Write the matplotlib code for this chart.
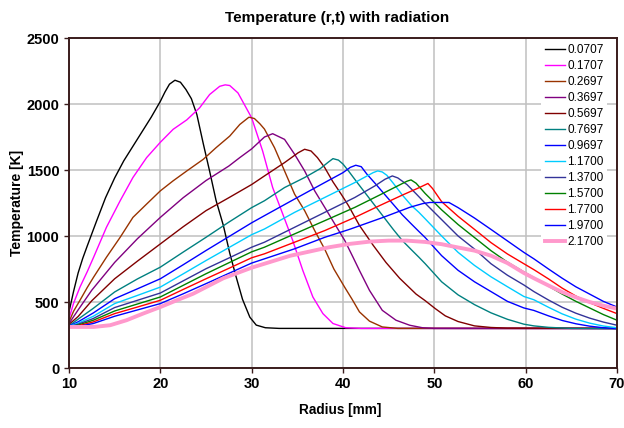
import matplotlib
matplotlib.use("Agg")
import matplotlib.pyplot as plt

plt.rcParams['font.family'] = ['Liberation Sans', 'DejaVu Sans']

labels = ["0.0707", "0.1707", "0.2697", "0.3697", "0.5697", "0.7697", "0.9697",
          "1.1700", "1.3700", "1.5700", "1.7700", "1.9700", "2.1700"]
colors = ["#000000", "#FF00FF", "#993300", "#800080", "#800000", "#008080", "#0000FF",
          "#00CCFF", "#333399", "#008000", "#FF0000", "#0000FF", "#FF99CC"]

r0 = [10, 10.5, 11, 11.5, 12, 13, 14, 15, 16, 17, 18, 19, 20, 20.5, 21, 21.6, 22.2, 22.8, 23.4, 24.0,
      24.7, 25.4, 26.1, 26.9, 27.6, 28.3, 29.0, 29.8, 30.5, 31.5, 33, 70]
T0 = [425, 580, 720, 830, 925, 1110, 1290, 1440, 1570, 1680, 1790, 1900, 2020, 2090, 2150, 2180, 2165,
      2110, 2040, 1920, 1700, 1490, 1270, 1080, 870, 690, 520, 385, 325, 305, 300, 300]

r1 = [10, 10.5, 11.2, 12, 12.7, 14.1, 15.6, 17, 18.5, 20, 21.4, 22.9, 24.3, 25.4, 26.5, 27.1, 27.6,
      28.5, 29.2, 30, 31.2, 32.3, 33.4, 34.5, 35.6, 36.7, 37.8, 38.9, 40.3, 42, 70]
T1 = [375, 490, 613, 730, 840, 1066, 1267, 1443, 1594, 1710, 1808, 1880, 1971, 2072, 2134, 2145, 2140,
      2084, 1996, 1895, 1644, 1367, 1167, 965, 739, 538, 412, 337, 305, 300, 300]

r2 = [10, 10.5, 11.2, 12, 12.7, 14.1, 15.6, 17, 18.5, 20, 21.4, 22.9, 24.7, 26.1, 27.6, 28.7, 29.7,
      30.3, 30.9, 31.4, 32.5, 33.6, 34.7, 35.8, 36.9, 38.0, 39.0, 40.2, 41.0, 41.8, 42.9, 44.3, 46, 70]
T2 = [349, 430, 513, 610, 689, 839, 990, 1141, 1242, 1342, 1418, 1493, 1581, 1669, 1757, 1845, 1900,
      1890, 1850, 1810, 1669, 1493, 1317, 1192, 1041, 900, 750, 610, 520, 425, 355, 311, 300, 300]

r3 = [10, 11, 12.5, 15, 17.5, 20, 22.5, 25, 27.5, 28.7, 30, 31.4, 32.3, 33.6, 34.7, 35.8, 36.9, 38.0,
      39.1, 40.2, 41.1, 41.8, 42.9, 44.3, 45.8, 47.3, 48.7, 50, 70]
T3 = [337, 440, 590, 800, 980, 1141, 1290, 1420, 1530, 1594, 1660, 1750, 1775, 1732, 1619, 1493, 1342,
      1217, 1091, 965, 839, 739, 588, 437, 362, 324, 305, 300, 298]

r4 = [10, 11, 12.5, 15, 17.5, 20, 22.5, 25, 27.5, 30, 31.4, 33.6, 35.1, 35.8, 36.5, 37.2, 38.0, 38.9,
      39.8, 40.6, 41.8, 43.3, 44.7, 46.2, 48.0, 49.0, 50.1, 51.2, 52.6, 54.4, 56.2, 58, 70]
T4 = [330, 390, 510, 676, 810, 940, 1070, 1192, 1290, 1390, 1455, 1556, 1631, 1657, 1644, 1594, 1518,
      1410, 1317, 1230, 1080, 930, 800, 680, 560, 510, 450, 395, 352, 319, 307, 302, 300]

r5 = [10, 11, 12.66, 15, 17.5, 20, 22.5, 25, 27.5, 30, 31.4, 33.6, 35.8, 37.5, 38.4, 38.9, 39.5, 40.0,
      40.6, 41.5, 42.5, 43.5, 44.5, 45.5, 46.5, 47.5, 48.3, 49, 50.8, 52.6, 54.4, 56.2, 58, 59.8, 60.9,
      62.5, 65, 70]
T5 = [320, 370, 452, 576, 675, 764, 878, 990, 1105, 1215, 1267, 1367, 1443, 1510, 1560, 1586, 1575, 1545,
      1493, 1410, 1320, 1230, 1140, 1050, 965, 895, 840, 790, 653, 554, 480, 418, 369, 332, 319,
      308, 300, 298]

r6 = [10, 11, 12.66, 15, 17.5, 20, 22.5, 25, 27.5, 30, 31.4, 34.7, 38.0, 40.0, 40.8, 41.4, 42.0, 42.6,
      43.5, 44.5, 45.5, 46.5, 47.5, 48.3, 49, 50.8, 52.6, 54.4, 56.2, 58, 59.8, 60.9, 62.5, 64, 65.5,
      67, 68.5, 70]
T6 = [318, 350, 417, 525, 600, 676, 782, 890, 995, 1100, 1154, 1280, 1405, 1480, 1520, 1536, 1525, 1470,
      1400, 1320, 1240, 1160, 1090, 1035, 988, 851, 740, 653, 579, 505, 455, 436, 395, 360, 335,
      317, 305, 298]

r7 = [10, 11, 12.66, 15, 17.5, 20, 22.5, 25, 27.5, 30, 31.4, 34.7, 38.0, 41.3, 42.5, 43.3, 43.8, 44.3,
      44.8, 45.5, 46.5, 47.5, 48.3, 49, 50.8, 52.6, 54.4, 56.2, 58, 59.8, 60.9, 62.5, 64, 65.5, 67,
      68.5, 70]
T7 = [315, 340, 392, 488, 550, 613, 713, 814, 912, 1010, 1053, 1179, 1292, 1405, 1450, 1480, 1493, 1485,
      1460, 1400, 1310, 1230, 1180, 1130, 1000, 876, 777, 691, 616, 542, 517, 460, 410, 370, 340,
      318, 305]

r8 = [10, 11, 12.66, 15, 17.5, 20, 22.5, 25, 27.5, 30, 31.4, 34.7, 38.0, 41.3, 43.5, 44.6, 45.4, 46.0,
      47.0, 48.0, 49, 50.8, 52.6, 54.4, 56.2, 58, 59.8, 60.9, 62.5, 64, 65.5, 67, 68.5, 70]
T8 = [313, 332, 375, 458, 513, 568, 660, 752, 833, 915, 953, 1066, 1179, 1292, 1380, 1430, 1455, 1440,
      1390, 1320, 1248, 1124, 1000, 901, 790, 703, 629, 579, 515, 460, 415, 378, 348, 324]

r9 = [10, 11, 12.66, 15, 17.5, 20, 22.5, 25, 27.5, 30, 31.4, 34.7, 38.0, 41.3, 44.0, 46.0, 47.0, 47.45,
      48.0, 49, 50.8, 52.6, 54.4, 56.2, 58, 59.8, 60.9, 62.5, 64, 65.5, 67, 68.5, 70]
T9 = [311, 325, 362, 432, 485, 538, 626, 714, 797, 880, 915, 1016, 1116, 1217, 1310, 1380, 1415, 1425,
      1400, 1322, 1198, 1087, 988, 889, 802, 728, 685, 620, 560, 505, 455, 405, 362]

r10 = [10, 11, 12.66, 15, 17.5, 20, 22.5, 25, 27.5, 30, 31.4, 34.7, 38.0, 41.3, 44.0, 46.5, 48.3, 49.0,
       49.3, 49.8, 50.8, 52.6, 54.4, 56.2, 58, 59.8, 60.9, 62.5, 64, 65.5, 67, 68.5, 70]
T10 = [310, 320, 349, 412, 462, 513, 595, 676, 755, 835, 865, 953, 1041, 1141, 1230, 1310, 1365, 1388,
       1398, 1360, 1260, 1149, 1050, 950, 864, 790, 745, 675, 605, 545, 495, 452, 412]

r11 = [10, 11, 12.66, 15, 17.5, 20, 22.5, 25, 27.5, 30, 31.4, 34.7, 38.0, 40.7, 44.4, 47.3, 48.7, 49.5,
       51.6, 52.6, 54.4, 56.2, 58, 59.8, 60.9, 62.5, 64, 65.5, 67, 68.5, 70]
T11 = [308, 315, 337, 392, 440, 488, 562, 639, 717, 795, 827, 903, 990, 1050, 1141, 1217, 1245, 1254,
       1254, 1215, 1136, 1050, 963, 876, 827, 750, 680, 615, 560, 505, 462]

r12 = [10, 12.7, 14.5, 16.3, 18.1, 20, 21.8, 23.6, 26.9, 30, 31.4, 34.2, 38.5, 40.7, 43, 45, 47, 49,
       50.8, 52.6, 54.4, 56.2, 58, 59.8, 60.9, 62.5, 64, 65.5, 67, 68.5, 70]
T12 = [311, 311, 324, 362, 412, 462, 513, 563, 680, 760, 790, 850, 915, 940, 958, 965, 965, 955,
       938, 913, 889, 851, 795, 720, 680, 625, 575, 535, 500, 472, 450]

radii = [r0, r1, r2, r3, r4, r5, r6, r7, r8, r9, r10, r11, r12]
temps = [T0, T1, T2, T3, T4, T5, T6, T7, T8, T9, T10, T11, T12]

xticks = [10, 20, 30, 40, 50, 60, 70]
yticks = [0, 500, 1000, 1500, 2000, 2500]

fig = plt.figure(figsize=(6.24, 4.28), dpi=100)
ax = fig.add_axes([69/624, 1-368/428, (617-69)/624, (368-38)/428])

for i, (rr, tt) in enumerate(zip(radii, temps)):
    lw = 2.8 if i == 12 else 1.0
    ax.plot(rr, tt, color=colors[i], lw=lw, label=labels[i], solid_joinstyle='round')

ax.set_xlim(10, 70)
ax.set_ylim(0, 2500)
ax.set_xticks(xticks)
ax.set_yticks(yticks)
ax.grid(True, color='#C0C0C0', lw=1.1)
ax.set_axisbelow(True)

spine_col = '#3a1c1c'
for s in ax.spines.values():
    s.set_color(spine_col)
    s.set_linewidth(1.4)

ax.tick_params(direction='out', length=3.5, width=1.0, color=spine_col)
ax.tick_params(axis='y', pad=3.5)
ax.tick_params(axis='x', pad=3)
for lab in ax.get_xticklabels() + ax.get_yticklabels():
    lab.set_fontweight('bold')
    lab.set_fontsize(10.5)

leg = ax.legend(loc='upper left', bbox_to_anchor=(0.862, 0.993), borderaxespad=0,
                fontsize=8.5, frameon=True, fancybox=False, framealpha=1,
                handlelength=1.7, handletextpad=0.2, labelspacing=0.34, borderpad=0.3)
leg.get_frame().set_edgecolor('none')
leg.get_frame().set_facecolor('white')

fig.text(337/624, 1-18/428, "Temperature (r,t) with radiation", ha='center', va='center',
         fontsize=11, fontweight='bold')
fig.text(340/624, 1-410/428, "Radius [mm]", ha='center', va='center',
         fontsize=9.8, fontweight='bold')
fig.text(17/624, 1-203/428, "Temperature [K]", ha='center', va='center', rotation=90,
         fontsize=10, fontweight='bold')

fig.savefig("out.png", dpi=100)
